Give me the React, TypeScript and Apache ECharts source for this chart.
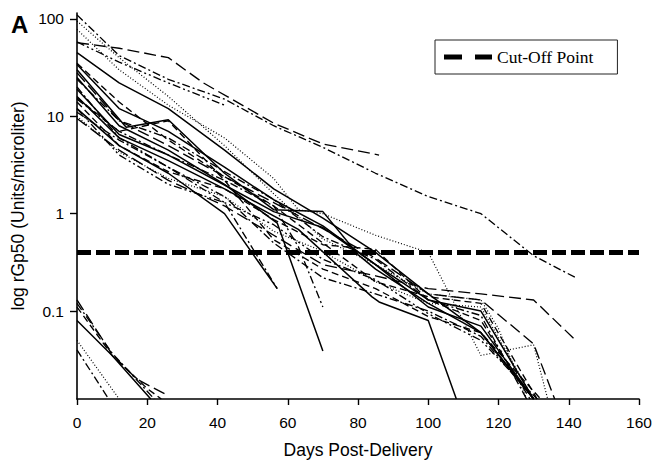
import React, { useEffect, useRef } from "react";
import * as echarts from "echarts";

// ---- Data: [day, rGp50 (Units/microliter)] ----
const U1: [number, number][] = [[0,110],[12,42],[26,24],[42,15],[56,8],[70,4.8],[85,2.6],[100,1.5],[115,1.0],[130,0.37],[142,0.22]];
const U2: [number, number][] = [[0,57],[12,50],[26,40],[36,22],[56,8.5],[70,5.2],[86,4]];
const U3: [number, number][] = [[0,58],[12,36],[26,22],[42,13]];
const D1: [number, number][] = [[0,78],[12,30],[26,13],[42,6],[56,2.3],[63,1.1],[70,1.0],[85,0.6],[100,0.4],[115,0.035],[130,0.045],[134,0.0125]];
const D2: [number, number][] = [[0,95],[12,40],[26,16],[42,5],[56,1.6],[70,0.55],[85,0.3],[100,0.15],[115,0.13],[120,0.066],[128,0.0125]];
const S1: [number, number][] = [[0,45],[12,22],[26,12],[42,4.5],[56,1.8],[70,0.9],[85,0.4],[100,0.15],[115,0.06],[130,0.0125]];
const B1: [number, number][] = [[0,30],[14,7.7],[26,9.2],[42,2.6],[56,1.1],[70,1.05],[80,0.38],[85,0.27],[100,0.12],[115,0.06],[130,0.0125]];
const B2: [number, number][] = [[0,25],[12,8],[26,4.5],[42,2],[57,0.8],[70,0.039]];
const B3: [number, number][] = [[0,16],[12,6],[26,3.5],[42,1.8],[63,0.69],[84,0.14],[86,0.124],[100,0.08],[108,0.0125]];
const B4: [number, number][] = [[0,20],[12,6],[26,3],[42,1.3],[57,0.17]];
const B5: [number, number][] = [[0,12],[12,5],[26,2.6],[42,1.0],[57,0.17]];
const B6: [number, number][] = [[0,15],[12,7],[26,4],[42,2.2],[56,1.2],[63,0.46],[70,0.11]];
const B7: [number, number][] = [[0,11],[12,5.7],[26,3],[42,1.5],[56,0.5],[70,0.22],[85,0.15],[100,0.1],[115,0.055],[130,0.0125]];
const B8: [number, number][] = [[0,9.5],[12,4.5],[26,2.2],[42,1.2],[56,0.6],[70,0.3],[85,0.23],[100,0.17],[115,0.15],[130,0.13],[142,0.05]];
const B9: [number, number][] = [[0,28],[12,9],[26,5],[42,2.4],[56,1.3],[70,0.7],[85,0.35],[100,0.15],[115,0.13],[130,0.046],[136,0.0125]];
const B11: [number, number][] = [[0,24],[12,9],[26,6],[42,2.7],[56,1.4],[70,0.58],[85,0.34],[100,0.13],[115,0.09],[128,0.0125]];
const B12: [number, number][] = [[0,14],[12,5],[26,2.7],[42,1.8],[56,0.87],[70,0.48],[85,0.43],[100,0.13],[115,0.08],[129,0.0125]];
const B13: [number, number][] = [[0,10],[12,4.3],[26,2.3],[42,1.5],[56,0.66],[70,0.41],[85,0.2],[100,0.12],[115,0.11],[130,0.0125]];
const B14: [number, number][] = [[0,12],[12,4],[26,2],[42,1.3],[56,0.77],[70,0.34],[85,0.21],[100,0.094],[115,0.05],[131,0.0125]];
const B15: [number, number][] = [[0,19],[12,6.5],[26,4],[42,1.97],[56,1.05],[70,0.72],[85,0.3],[100,0.11],[115,0.07],[130,0.0125]];
const B16: [number, number][] = [[0,15.5],[12,7],[26,9],[42,2.2],[56,0.54],[70,0.27],[85,0.17],[100,0.088],[115,0.06],[132,0.0125]];
const B17: [number, number][] = [[0,34],[12,12],[26,7],[42,3],[56,1.39],[70,0.75],[85,0.3],[100,0.13],[115,0.1],[130,0.0125]];
const B18: [number, number][] = [[0,35],[12,14],[26,5.7],[42,2.4],[56,1.2],[70,0.5],[85,0.2],[100,0.14],[115,0.12],[131,0.0125]];
const C1: [number, number][] = [[0,0.13],[10,0.036],[17,0.02],[26,0.0135]];
const C2: [number, number][] = [[0,0.11],[10,0.035],[20,0.016],[24,0.0125]];
const C3: [number, number][] = [[0,0.08],[10,0.035],[21,0.0125]];
const C4: [number, number][] = [[0,0.12],[10,0.037],[22,0.0125]];
const C5: [number, number][] = [[0,0.05],[12,0.0125]];
const C6: [number, number][] = [[0,0.04],[9,0.0125]];

const cutOffValue = 0.4;
const xTicks = [0, 160];

// ---- styles (kept separate from data) ----
const dashes: Record<string, any> = {
  solid: "solid",
  dash: [7, 4],
  longDash: [12, 5],
  dashDot: [8, 3, 2, 3],
  dashDotDot: [8, 3, 2, 3, 2, 3],
  dot: [1, 2],
};

const subjects: { name: string; data: [number, number][]; style: string }[] = [
  { name: "U1", data: U1, style: "dashDot" },
  { name: "U2", data: U2, style: "longDash" },
  { name: "U3", data: U3, style: "dashDotDot" },
  { name: "D1", data: D1, style: "dot" },
  { name: "D2", data: D2, style: "dot" },
  { name: "S1", data: S1, style: "solid" },
  { name: "B1", data: B1, style: "solid" },
  { name: "B2", data: B2, style: "solid" },
  { name: "B3", data: B3, style: "solid" },
  { name: "B4", data: B4, style: "dashDot" },
  { name: "B5", data: B5, style: "solid" },
  { name: "B6", data: B6, style: "dashDot" },
  { name: "B7", data: B7, style: "dashDot" },
  { name: "B8", data: B8, style: "longDash" },
  { name: "B9", data: B9, style: "longDash" },
  { name: "B11", data: B11, style: "dashDot" },
  { name: "B12", data: B12, style: "dash" },
  { name: "B13", data: B13, style: "dot" },
  { name: "B14", data: B14, style: "dashDotDot" },
  { name: "B15", data: B15, style: "solid" },
  { name: "B16", data: B16, style: "dash" },
  { name: "B17", data: B17, style: "solid" },
  { name: "B18", data: B18, style: "dash" },
  { name: "C1", data: C1, style: "longDash" },
  { name: "C2", data: C2, style: "dash" },
  { name: "C3", data: C3, style: "solid" },
  { name: "C4", data: C4, style: "dashDot" },
  { name: "C5", data: C5, style: "dot" },
  { name: "C6", data: C6, style: "dashDot" },
];

export default function App() {
  const ref = useRef<HTMLDivElement>(null);
  useEffect(() => {
    if (!ref.current) return;
    const chart = echarts.init(ref.current, undefined, { renderer: "svg" });
    const series: any[] = subjects.map((s) => ({
      name: s.name,
      type: "line",
      data: s.data,
      symbol: "none",
      silent: true,
      clip: true,
      itemStyle: { color: "#000" },
      lineStyle: {
        color: "#000",
        width: s.style === "solid" ? 1.5 : s.style === "dot" ? 1.2 : 1.35,
        type: dashes[s.style],
      },
      z: 2,
    }));
    series.push({
      name: "Cut-Off Point",
      type: "line",
      data: xTicks.map((d) => [d, cutOffValue]),
      symbol: "none",
      silent: true,
      itemStyle: { color: "#000" },
      lineStyle: { color: "#000", width: 5, type: [14, 5], cap: "butt" },
      z: 5,
    });
    chart.setOption({
      animation: false,
      grid: { left: 77, right: 24, top: 13, bottom: 62 },
      legend: {
        data: [{ name: "Cut-Off Point", icon: "path://M0,0H18V5H0Z M31,0H48V5H31Z" }],
        left: 435,
        top: 40,
        orient: "horizontal",
        padding: [8, 24, 8, 9],
        itemWidth: 48,
        itemHeight: 5,
        itemGap: 0,
        borderColor: "#222",
        borderWidth: 1,
        borderRadius: 0,
        selectedMode: false,
        itemStyle: { color: "#000" },
        textStyle: { fontFamily: "Liberation Serif", fontSize: 17.5, color: "#000", lineHeight: 18 },
      },
      xAxis: {
        type: "value",
        min: 0,
        max: 160,
        interval: 20,
        name: "Days Post-Delivery",
        nameLocation: "middle",
        nameGap: 42,
        nameTextStyle: { fontFamily: "Liberation Sans", fontSize: 17.5, color: "#000" },
        axisLine: { lineStyle: { color: "#000", width: 1.6 } },
        axisTick: { show: true, length: 6, lineStyle: { color: "#000", width: 1.4 } },
        axisLabel: { fontFamily: "Liberation Sans", fontSize: 15.5, color: "#000", margin: 15 },
        splitLine: { show: false },
      },
      yAxis: {
        type: "log",
        logBase: 10,
        min: 0.0125,
        max: 115,
        name: "log rGp50 (Units/microliter)",
        nameLocation: "middle",
        nameGap: 44,
        nameTextStyle: { fontFamily: "Liberation Sans", fontSize: 17.5, color: "#000" },
        axisLine: { show: true, lineStyle: { color: "#000", width: 1.6 } },
        axisTick: { show: true, length: 7, lineStyle: { color: "#000", width: 1.4 } },
        axisLabel: {
          fontFamily: "Liberation Sans",
          fontSize: 15.5,
          color: "#000",
          margin: 13,
          showMinLabel: false,
          showMaxLabel: false,
          formatter: (v: number) => String(v),
        },
        splitLine: { show: false },
      },
      graphic: [
        {
          type: "text",
          left: 11,
          top: 12,
          style: { text: "A", fontFamily: "Liberation Sans", fontWeight: "bold", fontSize: 24, fill: "#000" },
        },
      ],
      series,
    });
    return () => chart.dispose();
  }, []);
  return <div ref={ref} style={{ width: 663, height: 464, position: "absolute", left: 0, top: 0, background: "#fff" }} />;
}
